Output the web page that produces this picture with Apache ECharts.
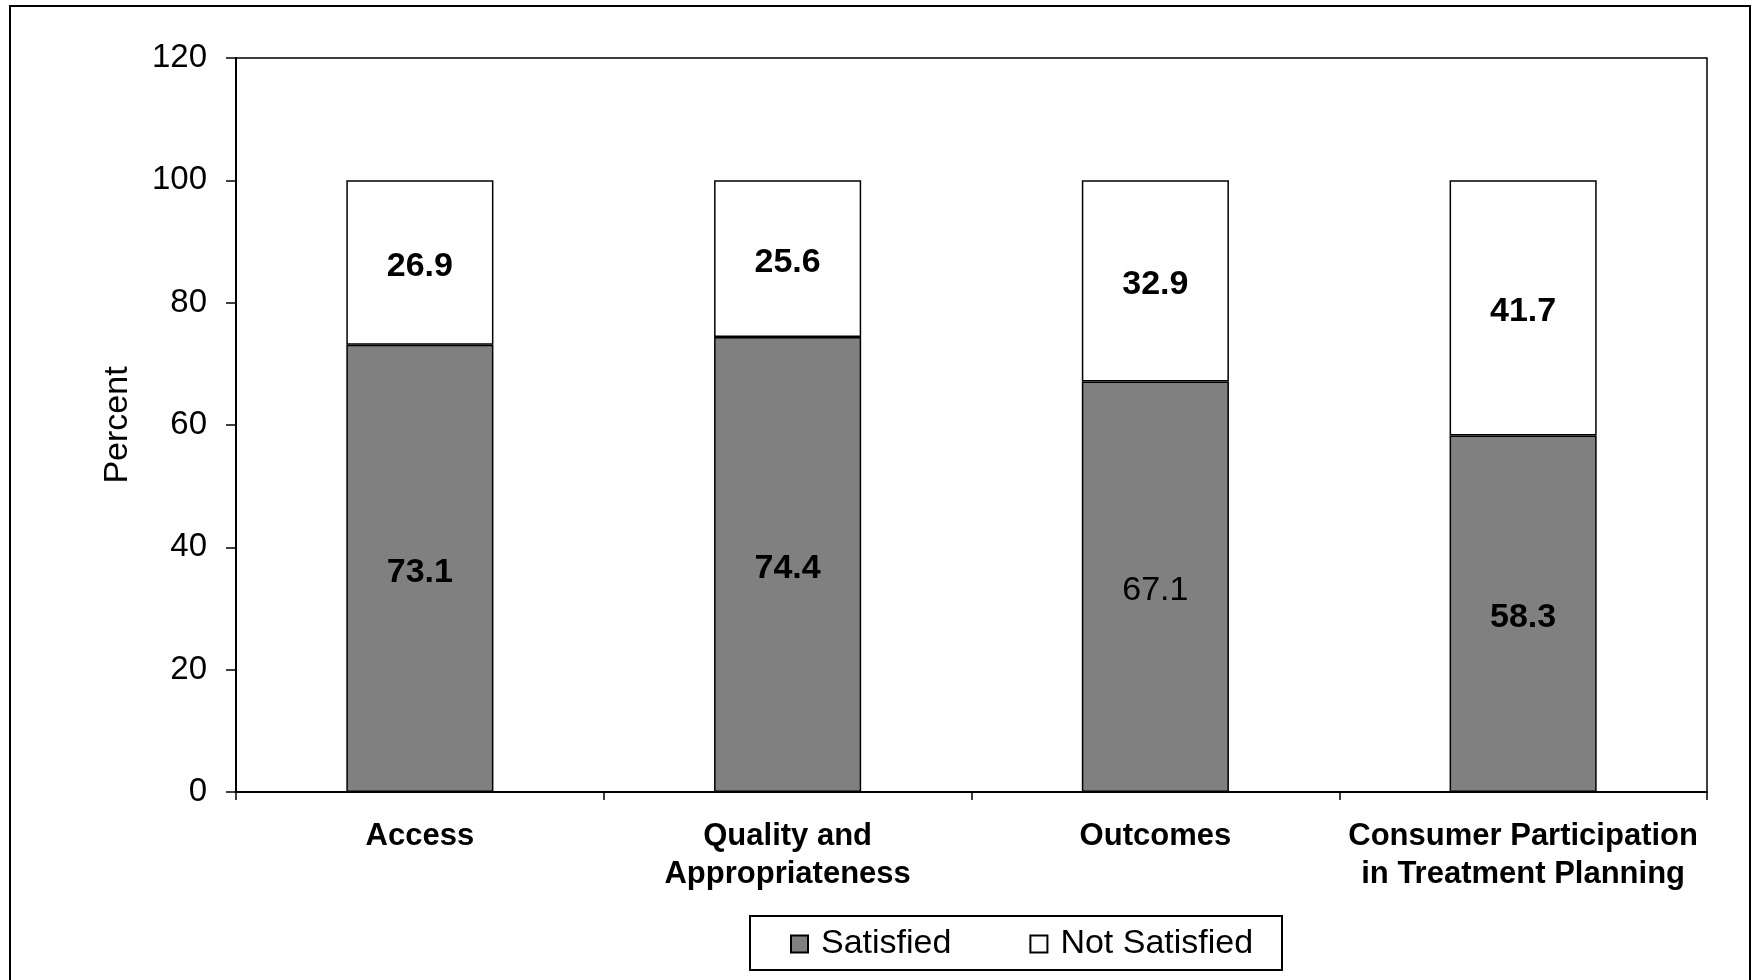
<!DOCTYPE html>
<html>
<head>
<meta charset="utf-8">
<script src="https://cdn.jsdelivr.net/npm/echarts@6/dist/echarts.min.js"></script>
<style>
  html, body { margin: 0; padding: 0; background: #ffffff; }
  #chart { width: 1757px; height: 980px; }
</style>
</head>
<body>
<div id="chart"></div>
<script>
// Satisfaction domains shown along the x axis
const categories = [
  'Access',
  'Quality and\nAppropriateness',
  'Outcomes',
  'Consumer Participation\nin Treatment Planning'
];
// Percent satisfied / not satisfied per domain
const satisfied = [73.1, 74.4, 67.1, 58.3];
const notSatisfied = [26.9, 25.6, 32.9, 41.7];
// Which satisfied labels are printed in regular weight
const satisfiedRegular = [false, false, true, false];
// Y axis scale
const yTicks = { min: 0, max: 120, step: 20 };

const FONT = '"Liberation Sans", Arial, sans-serif';

const chart = echarts.init(document.getElementById('chart'), null, { renderer: 'canvas' });

const valueLabel = {
  show: true, position: 'inside', color: '#000', offset: [0, 4],
  fontFamily: FONT, fontSize: 34, fontWeight: 'bold'
};

const option = {
  backgroundColor: '#ffffff',
  animation: false,
  textStyle: { fontFamily: FONT, color: '#000' },
  grid: {
    left: 236, right: 50, top: 58, bottom: 188,
    show: true, borderColor: '#000', borderWidth: 1.5, backgroundColor: 'transparent'
  },
  legend: {
    left: 790, top: 927,
    padding: 0,
    itemWidth: 17, itemHeight: 17, itemGap: 78,
    icon: 'rect',
    textStyle: { fontFamily: FONT, fontSize: 34, color: '#000', padding: [0, 0, 0, 8] },
    data: ['Satisfied', 'Not Satisfied']
  },
  xAxis: {
    type: 'category',
    data: categories,
    axisLine: { lineStyle: { color: '#000', width: 2 } },
    axisTick: { show: true, length: 8, inside: false, lineStyle: { color: '#000', width: 1.5 } },
    axisLabel: {
      fontFamily: FONT, fontSize: 31, fontWeight: 'bold', color: '#000',
      lineHeight: 38, margin: 25, interval: 0
    }
  },
  yAxis: {
    type: 'value',
    min: yTicks.min, max: yTicks.max, interval: yTicks.step,
    name: 'Percent',
    nameLocation: 'middle',
    nameRotate: 90,
    nameGap: 101,
    nameTextStyle: { fontFamily: FONT, fontSize: 34, color: '#000' },
    splitLine: { show: false },
    axisLine: { show: true, lineStyle: { color: '#000', width: 2 } },
    axisTick: { show: true, length: 10, lineStyle: { color: '#000', width: 1.5 } },
    axisLabel: { fontFamily: FONT, fontSize: 33, color: '#000', margin: 29 }
  },
  series: [
    {
      name: 'Satisfied',
      type: 'bar',
      stack: 'total',
      barWidth: '40%',
      itemStyle: { color: '#808080', borderColor: '#000', borderWidth: 1.5 },
      label: valueLabel,
      data: satisfied.map((v, i) => satisfiedRegular[i]
        ? { value: v, label: { fontWeight: 'normal' } }
        : v)
    },
    {
      name: 'Not Satisfied',
      type: 'bar',
      stack: 'total',
      barWidth: '40%',
      itemStyle: { color: '#ffffff', borderColor: '#000', borderWidth: 1.5 },
      label: valueLabel,
      data: notSatisfied
    }
  ],
  graphic: [
    {
      type: 'rect',
      shape: { x: 10, y: 6, width: 1740, height: 1000 },
      style: { fill: 'none', stroke: '#000', lineWidth: 2 },
      silent: true, z: -1
    },
    {
      type: 'rect',
      shape: { x: 750, y: 916, width: 532, height: 54 },
      style: { fill: 'none', stroke: '#000', lineWidth: 2 },
      silent: true
    }
  ]
};

chart.setOption(option);
</script>
</body>
</html>
